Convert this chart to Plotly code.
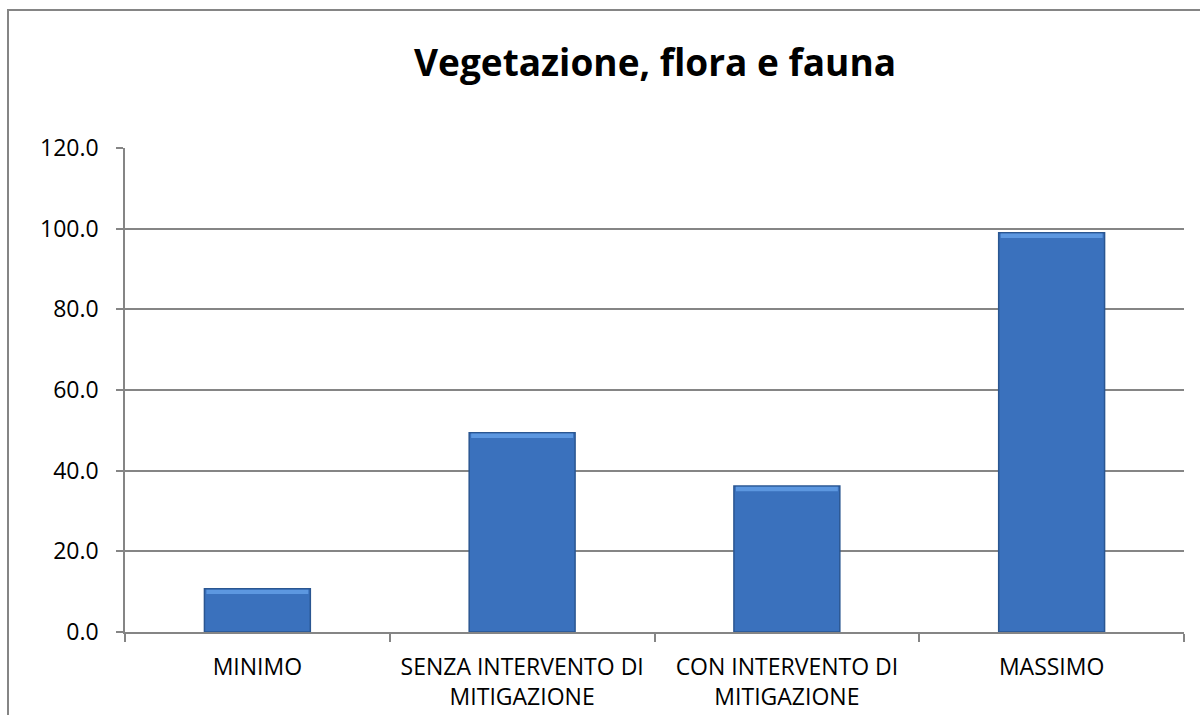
import plotly.graph_objects as go

categories = ["MINIMO", "SENZA INTERVENTO DI<br>MITIGAZIONE", "CON INTERVENTO DI<br>MITIGAZIONE", "MASSIMO"]
values = [10.7, 49.4, 36.2, 99.0]
y_ticks = [0, 20, 40, 60, 80, 100, 120]
title_text = "Vegetazione, flora e fauna"

FONT = "Open Sans"
GRAY = "#858585"

fig = go.Figure()

# main bar body
fig.add_trace(go.Bar(
    x=categories, y=values, width=0.4,
    marker=dict(color="#3A71BD", line=dict(color="#2A5691", width=1.5)),
    hoverinfo="skip", showlegend=False,
))
# soft bevel highlight along the top edge of each bar
fig.add_trace(go.Bar(
    x=categories, y=[1.1] * len(values), base=[v - 1.3 for v in values], width=0.385,
    marker=dict(color="#5C97E0", line=dict(width=0)),
    hoverinfo="skip", showlegend=False,
))

fig.update_layout(
    width=1200, height=715,
    margin=dict(l=125, r=16, t=148, b=83),
    paper_bgcolor="white", plot_bgcolor="white",
    barmode="overlay",
    font=dict(family=FONT, size=23, color="#000000"),
    title=dict(
        text="<b>" + title_text + "</b>",
        x=0.5005, xref="paper", xanchor="center",
        y=1 - 63 / 715, yref="container", yanchor="middle",
        font=dict(family=FONT, size=37, color="#000000"),
    ),
    xaxis=dict(
        type="category", automargin=False,
        showline=True, linecolor=GRAY, linewidth=1.5,
        ticks="outside", tickson="boundaries", ticklen=8, tickcolor=GRAY, tickwidth=1.5,
        showgrid=False,
        ticklabelstandoff=14,
        tickfont=dict(family=FONT, size=23),
    ),
    yaxis=dict(
        range=[0, 120], automargin=False,
        tickvals=y_ticks, tickformat=".1f",
        showline=True, linecolor=GRAY, linewidth=1.5,
        ticks="outside", ticklen=7, tickcolor=GRAY, tickwidth=1.5,
        showgrid=True, gridcolor=GRAY, gridwidth=1.5,
        zeroline=False,
        ticklabelstandoff=13,
        tickfont=dict(family=FONT, size=23),
    ),
    shapes=[dict(
        type="rect", xref="paper", yref="paper",
        x0=(8 - 125) / 1059, x1=(1215 - 125) / 1059,
        y0=-0.5, y1=1 + (148 - 10) / 484,
        line=dict(color=GRAY, width=2), fillcolor="rgba(0,0,0,0)", layer="below",
    )],
)

fig.write_html("out.html")
